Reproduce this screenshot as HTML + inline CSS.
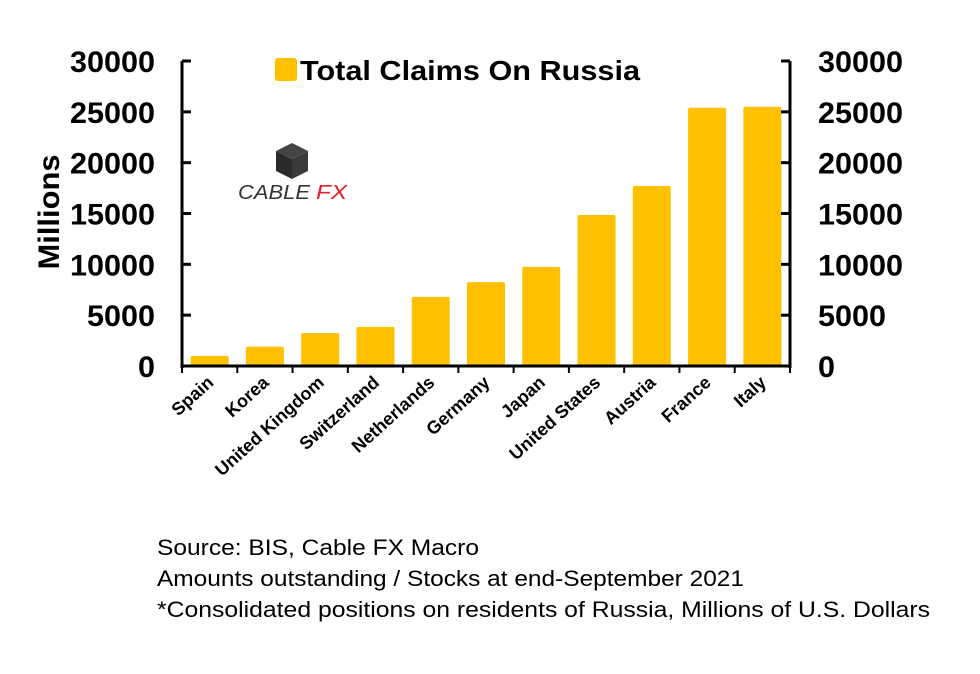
<!DOCTYPE html>
<html><head><meta charset="utf-8"><style>
body{margin:0;background:#fff;}
svg{display:block;font-family:"Liberation Sans",Arial,sans-serif;}
</style></head><body>
<svg width="980" height="674" viewBox="0 0 980 674">
<g id="logo">
  <polygon points="292,143 308,151 292,159 276,151" fill="#444"/>
  <polygon points="276,151 292,159 292,179 276,171" fill="#2a2a2a"/>
  <polygon points="308,151 292,159 292,179 308,171" fill="#3a3a3a"/>
  <text x="238" y="199" font-size="20" font-style="italic" fill="#333" textLength="72" lengthAdjust="spacingAndGlyphs">CABLE</text>
  <text x="316" y="199" font-size="20" font-style="italic" fill="#e0202a" textLength="31" lengthAdjust="spacingAndGlyphs">FX</text>
</g>
<g id="plot"></g>
<g>
  <rect x="275" y="58" width="22" height="23" rx="3" fill="#FFC000"/>
  <text x="300" y="80" font-size="28" font-weight="bold" textLength="340" lengthAdjust="spacingAndGlyphs">Total Claims On Russia</text>
</g>
<text transform="translate(59,212) rotate(-90)" text-anchor="middle" font-size="30" font-weight="bold" textLength="115" lengthAdjust="spacingAndGlyphs">Millions</text>
<g font-size="22">
  <text x="157" y="555" textLength="322" lengthAdjust="spacingAndGlyphs">Source: BIS, Cable FX Macro</text>
  <text x="157" y="586" textLength="587" lengthAdjust="spacingAndGlyphs">Amounts outstanding / Stocks at end-September 2021</text>
  <text x="157" y="617" textLength="773" lengthAdjust="spacingAndGlyphs">*Consolidated positions on residents of Russia, Millions of U.S. Dollars</text>
</g>
</svg>
<script>
const categories=["Spain","Korea","United Kingdom","Switzerland","Netherlands","Germany","Japan","United States","Austria","France","Italy"];
const values=[1000,1900,3250,3850,6800,8250,9750,14850,17700,25400,25500];
const ticks=[0,5000,10000,15000,20000,25000,30000];
const NS="http://www.w3.org/2000/svg";
const g=document.getElementById('plot');
const L=182,R=790,Y0=366,YT=61,MAX=30000;
const y=v=>Y0-(v/MAX)*(Y0-YT);
const cw=(R-L)/categories.length;
const x=i=>L+cw*i;
function mk(t,a){const e=document.createElementNS(NS,t);for(const k in a)e.setAttribute(k,a[k]);g.appendChild(e);return e;}
values.forEach((v,i)=>{
  const b=mk('rect',{x:x(i)+cw/2-19,y:y(v),width:38,height:Y0-y(v),rx:2,fill:'#FFC000'});
  
  
  const t=mk('text',{transform:`translate(${x(i)+cw/2+5},384) rotate(-42)`,'text-anchor':'end','font-size':18,'font-weight':'bold'});
  t.textContent=categories[i];
  
  
});
for(let i=0;i<=categories.length;i++){
  const tk=mk('line',{x1:x(i),x2:x(i),y1:Y0,y2:Y0+7,stroke:'#000','stroke-width':2});
  
  
}
const xa=mk('line',{x1:L,x2:R,y1:Y0,y2:Y0,stroke:'#000','stroke-width':3});


[[L,1,'left'],[R,-1,'right']].forEach(([ax,dir,side])=>{
  const a=mk('line',{x1:ax,x2:ax,y1:YT,y2:Y0+2,stroke:'#000','stroke-width':3});
  
  
  ticks.forEach(v=>{
    const tk=mk('line',{x1:ax,x2:ax+dir*9,y1:y(v),y2:y(v),stroke:'#000','stroke-width':3});
    
    
    const s=String(v);
    const t=mk('text',{x:side=='left'?ax-27:ax+28,y:y(v)+11,'text-anchor':side=='left'?'end':'start','font-size':30,'font-weight':'bold',textLength:s.length*17,lengthAdjust:'spacingAndGlyphs'});
    t.textContent=s;
    
    
  });
});
</script>
</body></html>
